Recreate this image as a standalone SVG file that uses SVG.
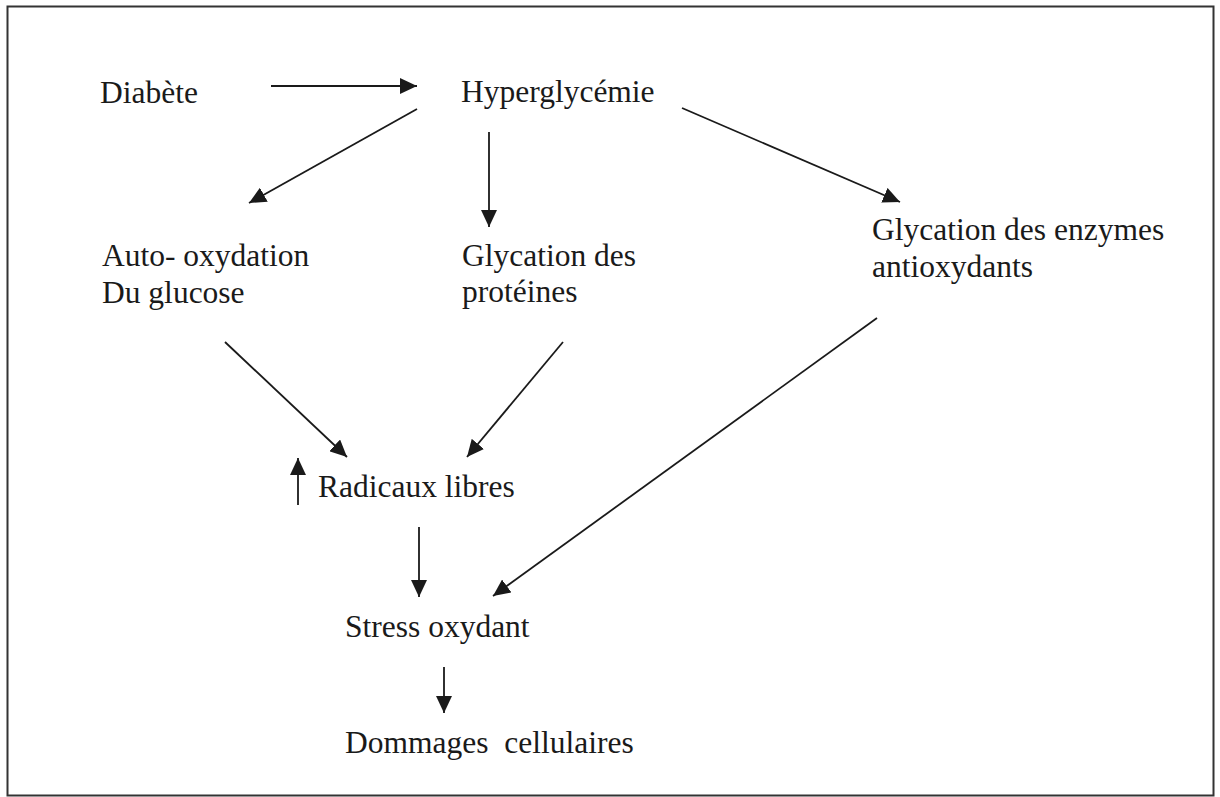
<svg xmlns="http://www.w3.org/2000/svg" width="1220" height="797" viewBox="0 0 1220 797">
<style>
text{font-family:"Liberation Serif","Times New Roman",serif;font-size:31.5px;fill:#1a1a1a}
.c line{stroke:#1a1a1a;stroke-width:1.8;marker-end:url(#ah)}
</style>
<defs>
<marker id="ah" markerUnits="userSpaceOnUse" markerWidth="18" markerHeight="16" refX="17" refY="8" orient="auto">
<path d="M0,0 L17,8 L0,16 z" fill="#1a1a1a"/>
</marker>
</defs>
<rect x="0" y="0" width="1220" height="797" fill="#fff"/>
<rect x="7.5" y="6.5" width="1206" height="789" fill="none" stroke="#333" stroke-width="2"/>
<g id="diabete"><text x="100" y="103">Diabète</text></g>
<g id="hyperglycemie"><text x="461" y="102">Hyperglycémie</text></g>
<g id="auto-oxydation"><text x="102" y="266">Auto- oxydation</text><text x="102" y="303">Du glucose</text></g>
<g id="glycation-proteines"><text x="462" y="266">Glycation des</text><text x="462" y="302">protéines</text></g>
<g id="glycation-enzymes"><text x="872" y="240">Glycation des enzymes</text><text x="872" y="277">antioxydants</text></g>
<g id="radicaux"><text x="318" y="497">Radicaux libres</text></g>
<g id="stress"><text x="345" y="637">Stress oxydant</text></g>
<g id="dommages"><text x="345" y="753" xml:space="preserve">Dommages  cellulaires</text></g>
<g class="c" id="connectors">
<line x1="271" y1="86" x2="417" y2="86"/>
<line x1="417" y1="109" x2="249" y2="203"/>
<line x1="489" y1="132" x2="489" y2="227"/>
<line x1="682" y1="108" x2="900" y2="202"/>
<line x1="225" y1="342" x2="347" y2="457"/>
<line x1="563" y1="342" x2="467" y2="457"/>
<line x1="298" y1="505" x2="298" y2="458"/>
<line x1="419" y1="527" x2="419" y2="597"/>
<line x1="877" y1="318" x2="493" y2="596"/>
<line x1="444" y1="667" x2="444" y2="713"/>
</g>
</svg>
